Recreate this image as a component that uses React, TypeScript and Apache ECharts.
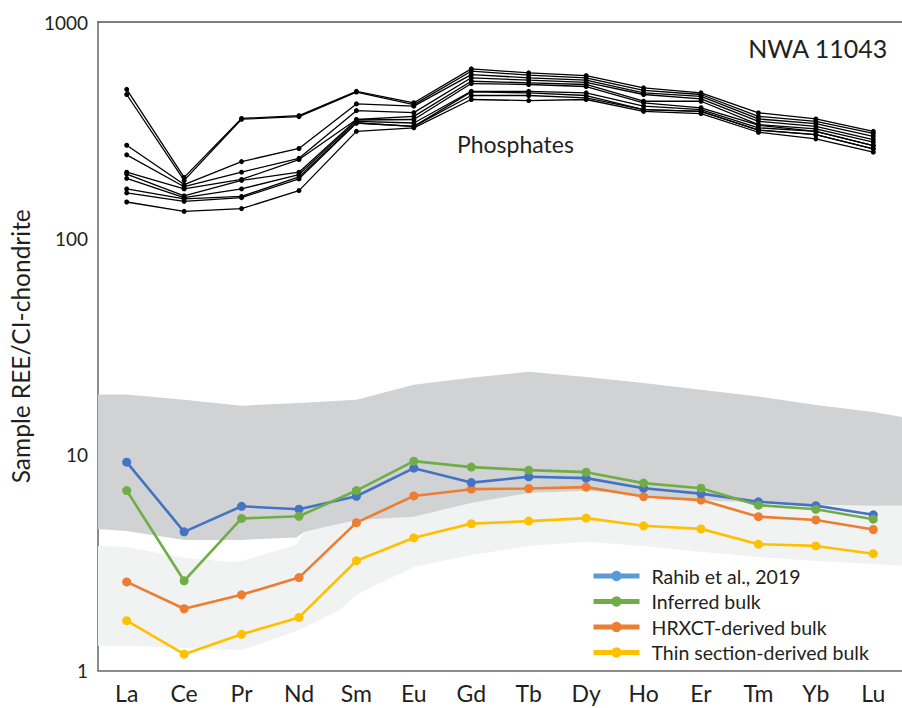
import React, { useEffect, useRef } from "react";
import * as echarts from "echarts";

const elements = ["La", "Ce", "Pr", "Nd", "Sm", "Eu", "Gd", "Tb", "Dy", "Ho", "Er", "Tm", "Yb", "Lu"];
const yTicks = [1, 10, 100, 1000];

const rahib = [9.2, 4.38, 5.75, 5.57, 6.4, 8.63, 7.4, 7.87, 7.76, 6.97, 6.58, 6.03, 5.79, 5.25];
const inferred = [6.8, 2.6, 5.05, 5.17, 6.8, 9.3, 8.73, 8.45, 8.27, 7.36, 6.97, 5.82, 5.57, 5.01];
const hrxct = [2.57, 1.93, 2.24, 2.69, 4.83, 6.42, 6.9, 6.95, 7.05, 6.38, 6.14, 5.15, 4.97, 4.49];
const thinSection = [1.7, 1.19, 1.47, 1.76, 3.22, 4.11, 4.78, 4.91, 5.07, 4.67, 4.52, 3.84, 3.77, 3.47];

const phos1 = [488, 191, 358, 369, 478, 423, 607, 582, 565, 496, 470, 380, 356, 312];
const phos2 = [462, 185, 355, 365, 474, 415, 592, 568, 552, 483, 462, 366, 347, 305];
const phos3 = [269, 177, 226, 260, 418, 408, 571, 552, 538, 470, 453, 356, 339, 296];
const phos4 = [243, 173, 202, 234, 389, 381, 552, 538, 526, 462, 441, 347, 329, 286];
const phos5 = [202, 169, 187, 231, 354, 366, 532, 523, 514, 430, 430, 335, 320, 278];
const phos6 = [198, 157, 185, 202, 352, 354, 519, 514, 503, 423, 401, 333, 312, 268];
const phos7 = [189, 154, 169, 197, 347, 341, 478, 478, 470, 408, 393, 324, 312, 268];
const phos8 = [169, 152, 156, 192, 341, 329, 475, 470, 457, 393, 386, 316, 301, 259];
const phos9 = [162, 148, 154, 188, 341, 329, 457, 457, 446, 393, 386, 316, 301, 259];
const phos10 = [147, 133, 137, 166, 312, 324, 438, 433, 438, 386, 377, 309, 288, 250];
const phosphates = [phos1, phos2, phos3, phos4, phos5, phos6, phos7, phos8, phos9, phos10];

// grey envelopes: [element position, value]
const darkUpper = [[-0.5, 18.9], [0, 18.9], [1, 17.9], [2, 16.8], [3, 17.3], [4, 17.9], [5, 21.0], [6, 22.6], [7, 24.1], [8, 22.8], [9, 21.4], [10, 19.9], [11, 18.5], [12, 16.9], [13, 15.7], [13.5, 14.9]];
const darkLower = [[-0.5, 4.52], [0, 4.42], [1, 4.02], [2, 4.02], [2.95, 4.12], [3.1, 4.38], [4, 4.97], [5, 5.14], [6, 5.96], [7, 6.63], [8, 6.78], [9, 6.49], [10, 6.15], [11, 5.96], [12, 5.84], [13, 5.78], [13.5, 5.78]];
const lightUpper = [[-0.5, 3.77], [0, 3.73], [1, 3.32], [1.8, 3.18], [2, 3.21], [2.95, 3.81], [3.1, 4.38], [4, 4.97], [5, 5.14], [6, 5.96], [7, 6.63], [8, 6.78], [9, 6.49], [10, 6.15], [11, 5.96], [12, 5.84], [13, 5.78], [13.5, 5.78]];
const lightLower = [[-0.5, 1.3], [0, 1.3], [1, 1.27], [2, 1.24], [3, 1.54], [3.7, 1.9], [4, 2.24], [5, 3.01], [6, 3.42], [7, 3.77], [8, 3.94], [9, 3.77], [10, 3.54], [11, 3.35], [12, 3.21], [13, 3.11], [13.5, 3.05]];

const FONT = "Lato";

export default function App() {
  const ref = useRef<HTMLDivElement>(null);
  useEffect(() => {
    if (!ref.current) return;
    const chart = echarts.init(ref.current, null, { renderer: "svg" });

    const band = (upper: number[][], lower: number[][], color: string, z: number) => ({
      type: "custom",
      coordinateSystem: "cartesian2d",
      xAxisIndex: 1,
      yAxisIndex: 0,
      silent: true,
      z,
      data: [[0, 1]],
      renderItem: (_p: any, api: any) => {
        const pts = [
          ...upper.map((p) => api.coord(p)),
          ...lower.slice().reverse().map((p) => api.coord(p)),
        ];
        return { type: "polygon", shape: { points: pts }, style: { fill: color } };
      },
    });

    const colored = (name: string, data: number[], color: string, z: number) => ({
      type: "line",
      name,
      data,
      z,
      symbol: "circle",
      symbolSize: 9,
      lineStyle: { color, width: 2.6 },
      itemStyle: { color },
    });

    const phosSeries = phosphates.map((d, i) => ({
      type: "line",
      name: "Phosphate " + (i + 1),
      data: d,
      z: 4,
      symbol: "circle",
      symbolSize: 5,
      lineStyle: { color: "#000", width: 1.3 },
      itemStyle: { color: "#000" },
    }));

    const legendText = { fontFamily: FONT, fontSize: 19.5, color: "#231f20", padding: [0, 0, 0, 7] };

    chart.setOption({
      animation: false,
      grid: { left: 90, right: -1, top: 22, bottom: 37.5 },
      xAxis: [
        {
          type: "category",
          data: elements,
          boundaryGap: true,
          axisLine: { show: true, lineStyle: { color: "#666", width: 1.5 } },
          axisTick: { show: false },
          axisLabel: { fontFamily: FONT, fontSize: 23, color: "#231f20", margin: 11, interval: 0 },
          splitLine: { show: false },
        },
        {
          type: "value",
          min: -0.5,
          max: 13.5,
          position: "top",
          axisLine: { show: true, onZero: false, lineStyle: { color: "#555", width: 1.5 } },
          axisTick: { show: false },
          axisLabel: { show: false },
          splitLine: { show: false },
        },
      ],
      yAxis: {
        type: "log",
        logBase: 10,
        min: yTicks[0],
        max: yTicks[yTicks.length - 1],
        name: "Sample REE/CI-chondrite",
        nameLocation: "middle",
        nameRotate: 90,
        nameGap: 56,
        nameTextStyle: { fontFamily: FONT, fontSize: 24.5, color: "#231f20" },
        axisLine: { show: true, onZero: false, lineStyle: { color: "#666", width: 1.5 } },
        axisTick: { show: false },
        axisLabel: { fontFamily: FONT, fontSize: 19, color: "#231f20", margin: 10, formatter: (v: number) => String(v) },
        splitLine: { show: false },
      },
      legend: {
        orient: "vertical",
        left: 586,
        top: 561,
        itemWidth: 46,
        itemHeight: 13,
        itemGap: 5.5,
        textStyle: legendText,
        data: [
          { name: "Rahib et al., 2019", itemStyle: { color: "#5b9bd5" }, lineStyle: { color: "#5b9bd5", width: 5 } },
          { name: "Inferred bulk", itemStyle: { color: "#70ad47" }, lineStyle: { color: "#70ad47", width: 5 } },
          { name: "HRXCT-derived bulk", itemStyle: { color: "#ed7d31" }, lineStyle: { color: "#ed7d31", width: 5 } },
          { name: "Thin section-derived bulk", itemStyle: { color: "#ffc000" }, lineStyle: { color: "#ffc000", width: 5 } },
        ],
      },
      graphic: [
        {
          type: "text",
          right: 14,
          top: 35,
          style: { text: "NWA 11043", fontFamily: FONT, fontSize: 25, fill: "#231f20" },
        },
        {
          type: "text",
          left: 457,
          top: 132,
          style: { text: "Phosphates", fontFamily: FONT, fontSize: 23, fill: "#231f20" },
        },
      ],
      series: [
        band(lightUpper, lightLower, "#f1f2f2", 1),
        band(darkUpper, darkLower, "#d1d2d4", 1),
        colored("HRXCT-derived bulk", hrxct, "#ed7d31", 3),
        colored("Thin section-derived bulk", thinSection, "#ffc000", 3),
        colored("Rahib et al., 2019", rahib, "#4472c4", 3),
        colored("Inferred bulk", inferred, "#70ad47", 3),
        ...phosSeries,
      ],
    });
    return () => chart.dispose();
  }, []);
  return <div ref={ref} style={{ position: "fixed", left: 0, top: 0, width: 902, height: 708, background: "#fff" }} />;
}
